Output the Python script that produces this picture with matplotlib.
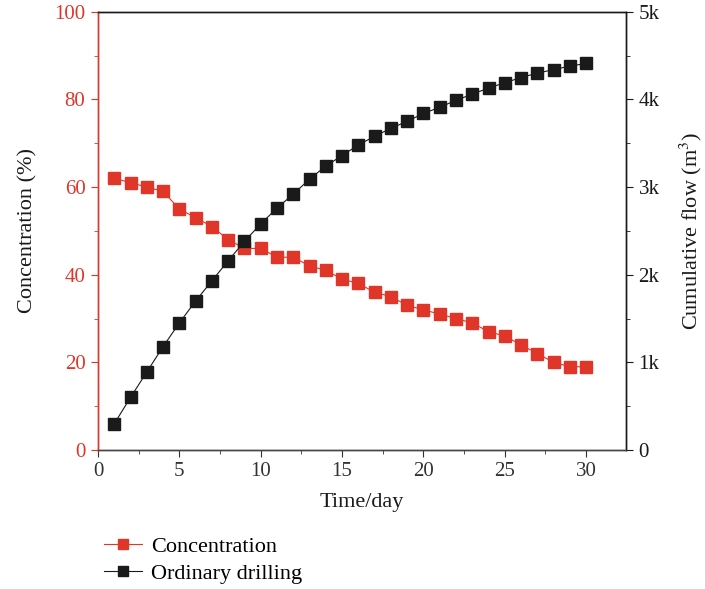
import matplotlib
matplotlib.use("Agg")
import matplotlib.pyplot as plt
from matplotlib.ticker import MultipleLocator, FuncFormatter

plt.rcParams['font.family'] = ['Liberation Serif', 'DejaVu Serif']
plt.rcParams['mathtext.fontset'] = 'stix'

days = list(range(1, 31))
concentration = [62, 61, 60, 59, 55, 53, 51, 48, 46, 46, 44, 44, 42, 41, 39,
                 38, 36, 35, 33, 32, 31, 30, 29, 27, 26, 24, 22, 20, 19, 19]
cumulative_flow = [300, 600, 890, 1180, 1450, 1700, 1930, 2160, 2380, 2580,
                   2760, 2920, 3090, 3240, 3360, 3480, 3580, 3670, 3750, 3840,
                   3910, 3990, 4060, 4130, 4190, 4250, 4300, 4340, 4380, 4410]

RED = '#e0362a'
BLACK = '#1a1a1a'

fig = plt.figure(figsize=(7.05, 5.89), dpi=100)
ax = fig.add_axes([0.139, 0.236, 0.749, 0.744])
ax2 = ax.twinx()

l1, = ax.plot(days, concentration, color=RED, marker='s', markersize=8.5,
              linewidth=0.8, label='Concentration', zorder=3)
l2, = ax2.plot(days, cumulative_flow, color=BLACK, marker='s', markersize=8.5,
               linewidth=0.8, label='Ordinary drilling', zorder=3)

ax.set_xlim(0, 32.45)
ax.set_ylim(0, 100)
ax2.set_ylim(0, 5000)

ax.xaxis.set_major_locator(MultipleLocator(5))
ax.xaxis.set_minor_locator(MultipleLocator(2.5))
ax.yaxis.set_major_locator(MultipleLocator(20))
ax.yaxis.set_minor_locator(MultipleLocator(10))
ax2.yaxis.set_major_locator(MultipleLocator(1000))
ax2.yaxis.set_minor_locator(MultipleLocator(500))
ax2.yaxis.set_major_formatter(FuncFormatter(lambda v, p: '0' if v == 0 else f'{int(v/1000)}k'))

fs_tick = 15
fs_lab = 16
ax.tick_params(axis='x', which='both', direction='out', labelsize=fs_tick, colors='#333333')
ax.tick_params(axis='x', which='major', length=5, pad=4)
ax.tick_params(axis='x', which='minor', length=3)
ax.tick_params(axis='y', which='both', direction='out', colors=RED, labelsize=fs_tick)
ax.tick_params(axis='y', which='major', length=5, pad=4)
ax.tick_params(axis='y', which='minor', length=3)
ax2.tick_params(axis='y', which='both', direction='out', colors=BLACK, labelsize=fs_tick)
ax2.tick_params(axis='y', which='major', length=5, pad=4)
ax2.tick_params(axis='y', which='minor', length=3)

for a in (ax, ax2):
    a.spines['left'].set_color(RED)
    a.spines['right'].set_color(BLACK)
    a.spines['top'].set_color(BLACK)
    a.spines['bottom'].set_color('#444444')
    for s in a.spines.values():
        s.set_linewidth(1.0)

ax.set_xlabel('Time/day', fontsize=fs_lab, color=BLACK, labelpad=8)
ax.set_ylabel('Concentration (%)', fontsize=fs_lab, color=BLACK, labelpad=12)
ax2.set_ylabel('Cumulative flow (m$^3$)', fontsize=fs_lab, color=BLACK, labelpad=13)

fig.legend(handles=[l1, l2], loc='upper left', bbox_to_anchor=(0.135, 0.105),
           frameon=False, fontsize=fs_lab, handlelength=1.7, labelspacing=0.3,
           borderaxespad=0, handletextpad=0.4, markerscale=0.85)

fig.savefig('out.png', dpi=100)
